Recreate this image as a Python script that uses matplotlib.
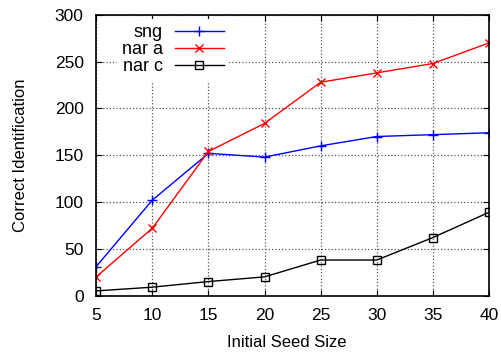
import matplotlib.pyplot as plt

plt.rcParams['font.family'] = ['Liberation Sans', 'DejaVu Sans']

seed = [5, 10, 15, 20, 25, 30, 35, 40]
sng = [31, 102, 152, 148, 160, 170, 172, 174]
nar_a = [20, 72, 154, 184, 228, 238, 248, 270]
nar_c = [5, 9, 15, 20, 38, 38, 62, 89]

fig = plt.figure(figsize=(5.01, 3.54), dpi=100)
ax = fig.add_axes([0.192, 0.165, 0.784, 0.793])

ax.plot(seed, sng, color='#0000ff', marker='+', markersize=7, lw=1, label='sng')
ax.plot(seed, nar_a, color='#ff0000', marker='x', markersize=6, lw=1, label='nar a')
ax.plot(seed, nar_c, color='black', marker='s', markersize=6, mfc='none', lw=1, label='nar c')

ax.set_xlim(5, 40)
ax.set_ylim(0, 300)
ax.set_xticks(seed)
ax.set_yticks(range(0, 301, 50))
ax.tick_params(direction='in', top=True, right=True, labelsize=12.5, length=4, pad=9)
ax.grid(True, linestyle=':', color='#555555', lw=0.9)
for s in ax.spines.values():
    s.set_linewidth(1.2)

ax.set_xlabel('Initial Seed Size', fontsize=12, labelpad=9)
ax.set_ylabel('Correct Identification', fontsize=12, labelpad=19)
ax.xaxis.set_label_coords(0.485, -0.14)

leg = ax.legend(loc='upper right', bbox_to_anchor=(0.338, 0.985), markerfirst=False,
                frameon=True, fontsize=13, handlelength=2.7, borderaxespad=0.0,
                borderpad=0.3, labelspacing=0.0, handletextpad=0.65)
leg.get_frame().set_edgecolor('none')
leg.get_frame().set_alpha(1)
leg.set_zorder(2.4)
for col in leg._legend_handle_box.get_children():
    col.align = 'right'

fig.savefig('out.png')
